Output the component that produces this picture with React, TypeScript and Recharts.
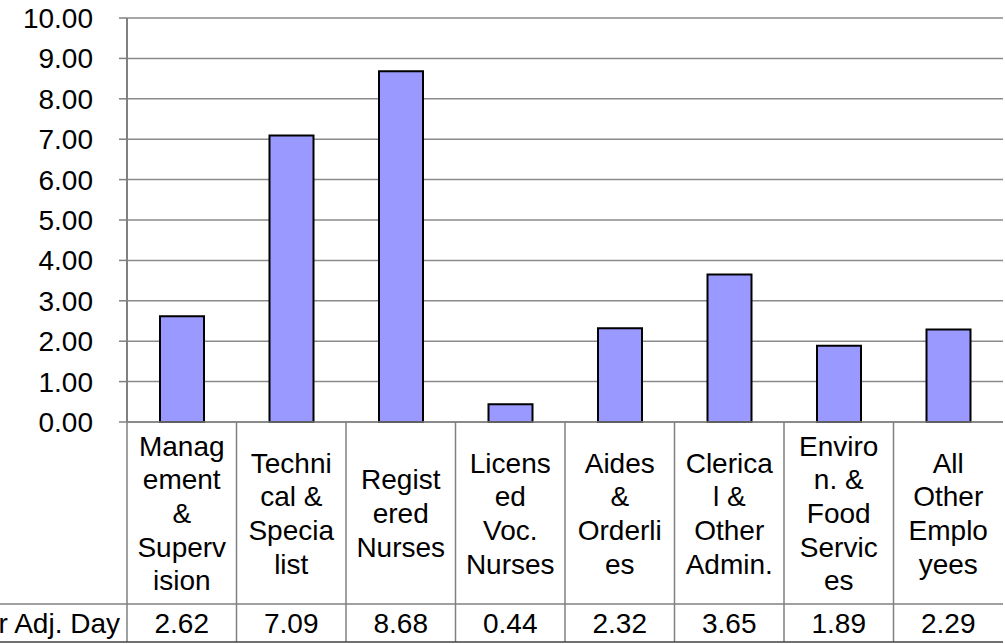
import { BarChart, Bar, XAxis, YAxis, CartesianGrid, Customized } from 'recharts';

// category labels as wrapped in the source table
const categoryLines: string[][] = [
  ['Manag', 'ement', '&', 'Superv', 'ision'],
  ['Techni', 'cal &', 'Specia', 'list'],
  ['Regist', 'ered', 'Nurses'],
  ['Licens', 'ed', 'Voc.', 'Nurses'],
  ['Aides', '&', 'Orderli', 'es'],
  ['Clerica', 'l &', 'Other', 'Admin.'],
  ['Enviro', 'n. &', 'Food', 'Servic', 'es'],
  ['All', 'Other', 'Emplo', 'yees'],
];
const categories = [
  'Management & Supervision',
  'Technical & Specialist',
  'Registered Nurses',
  'Licensed Voc. Nurses',
  'Aides & Orderlies',
  'Clerical & Other Admin.',
  'Environ. & Food Services',
  'All Other Employees',
];
const values = [2.62, 7.09, 8.68, 0.44, 2.32, 3.65, 1.89, 2.29];
const yTicks = [0, 1, 2, 3, 4, 5, 6, 7, 8, 9, 10];
const rowLabel = 'r Adj. Day';

const data = categories.map((name, i) => ({ name, value: values[i], idx: i }));

const W = 1005;
const H = 644;
const LEFT = 127;
const RIGHT = 1003;
const TOP = 18;
const BASE = 422;
const ROW_Y = 604;
const BOTTOM_Y = 642;
const COL = (RIGHT - LEFT) / categories.length;
const FONT = '"Liberation Sans", Arial, sans-serif';
const FS = 28;
const LINE_H = 33.7;

const CategoryTick = ({ x, index }: any) => {
  const lines = categoryLines[index] || [];
  const mid = (BASE + ROW_Y) / 2;
  const start = mid - ((lines.length - 1) * LINE_H) / 2;
  return (
    <g>
      {lines.map((l, k) => (
        <text
          key={k}
          x={x}
          y={start + k * LINE_H}
          dy="0.36em"
          textAnchor="middle"
          fontSize={FS}
          fontFamily={FONT}
          fill="#000"
        >
          {l}
        </text>
      ))}
      <text
        x={x}
        y={(ROW_Y + BOTTOM_Y) / 2}
        dy="0.36em"
        textAnchor="middle"
        fontSize={FS}
        fontFamily={FONT}
        fill="#000"
      >
        {values[index].toFixed(2)}
      </text>
    </g>
  );
};

const TableLines = () => (
  <g>
    {categories.map((_, i) => (
      <line
        key={i}
        x1={LEFT + i * COL}
        x2={LEFT + i * COL}
        y1={BASE}
        y2={BOTTOM_Y}
        stroke="#808080"
        strokeWidth={1.5}
      />
    ))}
    <line x1={0} x2={RIGHT} y1={ROW_Y} y2={ROW_Y} stroke="#808080" strokeWidth={1.5} />
    <line x1={0} x2={RIGHT} y1={BOTTOM_Y} y2={BOTTOM_Y} stroke="#404040" strokeWidth={1.5} />
    <text
      x={120}
      y={(ROW_Y + BOTTOM_Y) / 2}
      dy="0.36em"
      textAnchor="end"
      fontSize={FS}
      fontFamily={FONT}
      fill="#000"
    >
      {rowLabel}
    </text>
  </g>
);

export default function App() {
  return (
    <div style={{ position: 'absolute', left: 0, top: 0, width: W, height: H, background: '#fff' }}>
      <BarChart
        width={W}
        height={H}
        data={data}
        margin={{ top: TOP, right: W - RIGHT, bottom: 0, left: 0 }}
        barSize={44}
      >
        <CartesianGrid vertical={false} stroke="#8a8a8a" strokeWidth={1.5} />
        <YAxis
          width={LEFT}
          domain={[0, 10]}
          ticks={yTicks}
          interval={0}
          tickFormatter={(v: number) => v.toFixed(2)}
          tick={{ fontSize: FS, fontFamily: FONT, fill: '#000' }}
          tickSize={8}
          tickMargin={26}
          axisLine={{ stroke: '#808080', strokeWidth: 2 }}
          tickLine={{ stroke: '#808080', strokeWidth: 1.5 }}
        />
        <XAxis
          dataKey="name"
          interval={0}
          height={H - BASE}
          tickLine={false}
          axisLine={{ stroke: '#808080', strokeWidth: 1.5 }}
          tick={<CategoryTick />}
        />
        <Bar dataKey="value" fill="#9999FF" stroke="#000" strokeWidth={2} isAnimationActive={false} />
        <Customized component={TableLines} />
      </BarChart>
    </div>
  );
}
